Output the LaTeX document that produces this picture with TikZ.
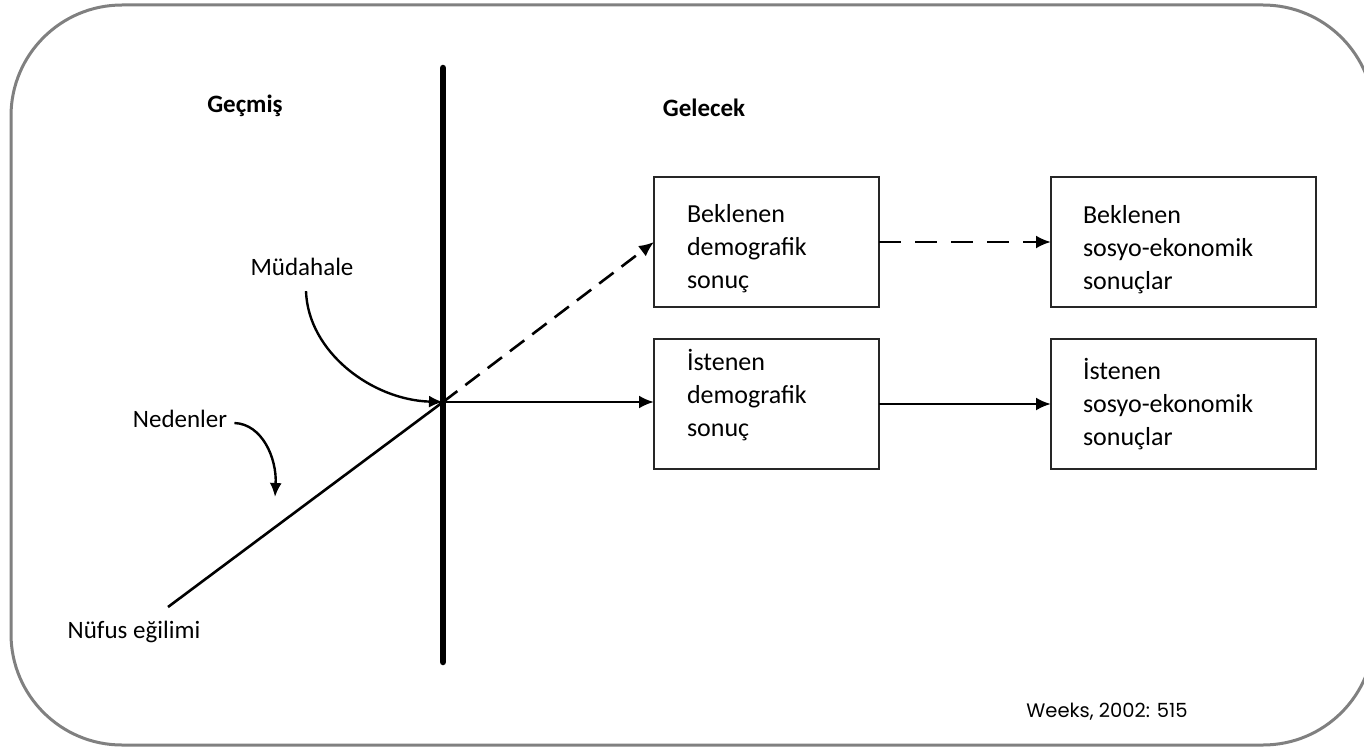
\documentclass[tikz,border=0pt]{standalone}
\usepackage{fontspec}
\setmainfont{Carlito}
\newfontfamily\sourcefont{Poppins}
\usetikzlibrary{arrows.meta}

%% struts to move the box text up or down
\newcommand{\padtop}[1]{\rule{0pt}{#1}}
\newcommand{\padbot}[1]{\rule[-#1]{0pt}{#1}}

\begin{document}
\begin{tikzpicture}[x=1pt,y={(0,-1pt)},every node/.style={outer sep=0pt}]
\tikzset{
    frame/.style   = {draw=black!50,line width=3pt,rounded corners=111pt},
    period/.style  = {font=\fontsize{25}{30}\selectfont\bfseries},
    tag/.style     = {font=\fontsize{25}{30}\selectfont},
    result/.style  = {draw=black!85,line width=2.2pt,minimum height=130pt,align=left,
                        font=\fontsize{26}{33}\selectfont,inner sep=0pt},
    flow/.style    = {line width=2.6pt,-{Latex[length=15pt,width=13pt]}},
    pointer/.style = {line width=2.4pt,-{Latex[length=14pt,width=12pt]}}
}

\useasboundingbox (0,0) rectangle (1364,749);
\draw [frame] (11,5) rectangle (1374,745);

%% time axis
\coordinate (top) at (443,68);
\coordinate (bot) at (443,662);
\coordinate (now) at (443,402);
\draw [line width=6.5pt,line cap=round] (top) -- (bot);

\node (past) [period] at (245,106) {Geçmiş};
\node (future) [period] at (704,108) {Gelecek};

%% trend line
\coordinate (trend) at (168,607);
\draw [line width=2.6pt] (trend) -- (now);
\node (tlabel) [tag] at (134,632) {Nüfus eğilimi};
\node (causes) [tag] at (180,419) {Nedenler};
\node (interv) [tag] at (302,267) {Müdahale};

%% boxes
\node (expdem) [result,minimum width=225pt,text width=159pt] at (766.5,242) {\padtop{31pt}Beklenen\\demografik\\sonuç};
\node (expsoc) [result,minimum width=265pt,text width=201pt] at (1183.5,242) {\padtop{33pt}Beklenen\\sosyo-ekonomik\\sonuçlar};
\node (wantdem) [result,minimum width=225pt,text width=159pt] at (766.5,404) {İstenen\\demografik\\sonuç\padbot{22pt}};
\node (wantsoc) [result,minimum width=265pt,text width=201pt] at (1183.5,404) {İstenen\\sosyo-ekonomik\\sonuçlar};

\draw [flow,dash pattern=on 18pt off 10pt] (now) -- (expdem.west);
\draw [flow,dash pattern=on 22pt off 14pt] (expdem.east) -- (expsoc.west);
\draw [flow] (now) -- (now -| wantdem.west);
\draw [flow] (wantdem.east) -- (wantsoc.west);

%% curved pointers
\draw [pointer] (interv.south)++(4,12) .. controls (308,352) and (372,400) .. (now);
\draw [pointer] (causes.east)++(4,4) .. controls (262,424) and (277,458) .. (275,497);

\node (source) [font=\sourcefont\fontsize{19.5}{23}\selectfont] at (1107,712) {Weeks, 2002: 515};
\end{tikzpicture}
\end{document}
